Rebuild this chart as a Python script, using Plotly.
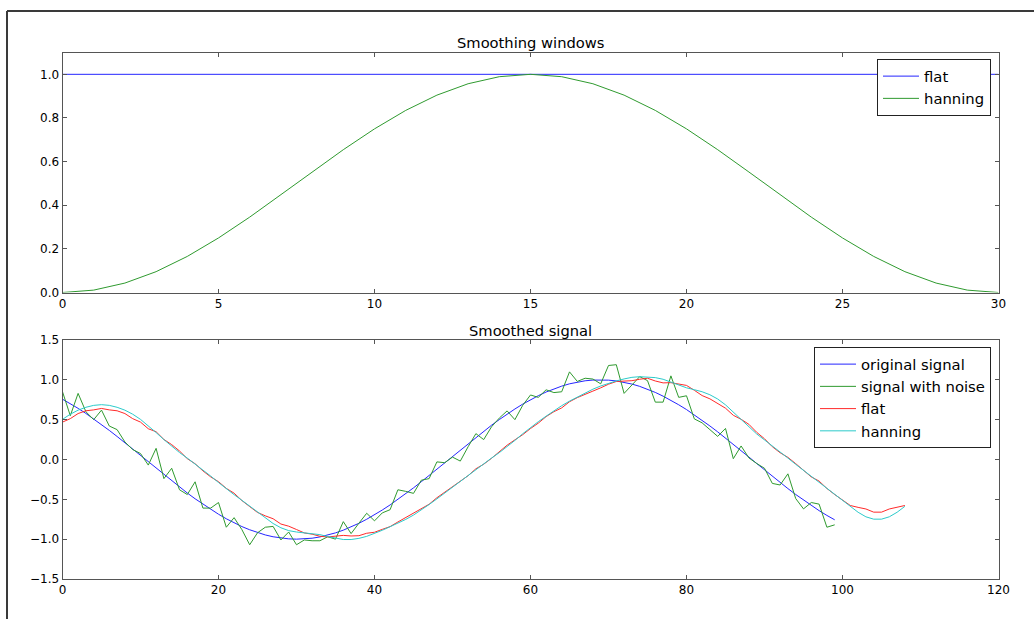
import plotly.graph_objects as go

# ---------------- data ----------------
win_x = list(range(31))
win_flat = [1.0] * 31
win_hanning = [0.0, 0.0109, 0.0432, 0.0955, 0.1654, 0.25, 0.3455, 0.4477, 0.5523, 0.6545,
               0.75, 0.8346, 0.9045, 0.9568, 0.9891, 1.0, 0.9891, 0.9568, 0.9045, 0.8346,
               0.75, 0.6545, 0.5523, 0.4477, 0.3455, 0.25, 0.1654, 0.0955, 0.0432, 0.0109, 0.0]

sig_x = list(range(100))
original = [0.757, 0.702, 0.642, 0.578, 0.510, 0.439, 0.365, 0.289, 0.210, 0.131,
            0.050, -0.031, -0.111, -0.191, -0.270, -0.347, -0.421, -0.493, -0.561, -0.627,
            -0.687, -0.744, -0.795, -0.842, -0.882, -0.918, -0.947, -0.970, -0.986, -0.996,
            -1.000, -0.997, -0.988, -0.972, -0.950, -0.921, -0.887, -0.847, -0.801, -0.750,
            -0.695, -0.634, -0.570, -0.501, -0.430, -0.356, -0.279, -0.201, -0.121, -0.040,
            0.040, 0.121, 0.201, 0.279, 0.356, 0.430, 0.501, 0.570, 0.634, 0.695,
            0.750, 0.801, 0.847, 0.887, 0.921, 0.950, 0.972, 0.988, 0.997, 1.000,
            0.996, 0.986, 0.970, 0.947, 0.918, 0.882, 0.842, 0.795, 0.744, 0.687,
            0.627, 0.561, 0.493, 0.421, 0.347, 0.270, 0.191, 0.111, 0.031, -0.050,
            -0.131, -0.210, -0.289, -0.365, -0.439, -0.510, -0.578, -0.642, -0.702, -0.757]
noisy = [0.85, 0.55, 0.83, 0.60, 0.50, 0.62, 0.42, 0.375, 0.22, 0.125,
         0.075, -0.07, 0.14, -0.24, -0.11, -0.38, -0.44, -0.28, -0.61, -0.61,
         -0.54, -0.85, -0.73, -0.88, -1.07, -0.92, -0.85, -0.84, -1.01, -0.91,
         -1.07, -1.01, -1.02, -1.02, -0.97, -1.00, -0.78, -0.93, -0.80, -0.675,
         -0.77, -0.67, -0.63, -0.38, -0.40, -0.425, -0.26, -0.24, -0.03, -0.04,
         0.03, -0.02, 0.16, 0.325, 0.25, 0.41, 0.52, 0.61, 0.50, 0.68,
         0.81, 0.78, 0.875, 0.84, 0.85, 1.10, 0.98, 1.02, 1.01, 0.95,
         1.18, 1.19, 0.83, 0.93, 1.04, 0.99, 0.72, 0.72, 1.05, 0.78,
         0.80, 0.51, 0.46, 0.375, 0.29, 0.39, 0.01, 0.17, 0.02, -0.05,
         -0.11, -0.30, -0.32, -0.18, -0.49, -0.62, -0.54, -0.56, -0.85, -0.82]

smooth_x = list(range(109))
smooth_flat = [0.4695, 0.5127, 0.5768, 0.6114, 0.6227, 0.6409, 0.6227, 0.6114, 0.5768, 0.5127,
               0.4695, 0.3859, 0.3486, 0.2514, 0.1868, 0.1068, 0.0105, -0.0532, -0.1427, -0.2182,
               -0.2786, -0.3627, -0.4227, -0.5155, -0.5909, -0.6645, -0.7073, -0.7436, -0.8100, -0.8373,
               -0.8791, -0.9218, -0.9373, -0.9636, -0.9718, -0.9655, -0.9527, -0.9600, -0.9564, -0.9259,
               -0.9132, -0.8768, -0.8423, -0.7841, -0.7277, -0.6782, -0.6109, -0.5618, -0.4800, -0.4109,
               -0.3468, -0.2786, -0.2032, -0.1164, -0.0591, 0.0145, 0.1005, 0.1795, 0.2468, 0.3114,
               0.3886, 0.4568, 0.5382, 0.6000, 0.6477, 0.7250, 0.7768, 0.8223, 0.8586, 0.8995,
               0.9450, 0.9795, 0.9841, 0.9891, 1.0073, 1.0200, 0.9855, 0.9618, 0.9645, 0.9436,
               0.9300, 0.8691, 0.8027, 0.7614, 0.7032, 0.6441, 0.5550, 0.5050, 0.4414, 0.3414,
               0.2605, 0.1605, 0.0850, 0.0268, -0.0518, -0.1345, -0.2191, -0.2709, -0.3636, -0.4400,
               -0.5100, -0.5773, -0.6009, -0.6209, -0.6609, -0.6609, -0.6209, -0.6009, -0.5773]
smooth_hanning = [0.5035, 0.5686, 0.6193, 0.6554, 0.6796, 0.6883, 0.6796, 0.6554, 0.6193, 0.5686,
                  0.5035, 0.4256, 0.3381, 0.2495, 0.1643, 0.0873, 0.0173, -0.0545, -0.1297, -0.2079,
                  -0.2891, -0.3679, -0.4413, -0.5123, -0.5828, -0.6565, -0.7337, -0.8033, -0.8571, -0.8928,
                  -0.9102, -0.9188, -0.9280, -0.9432, -0.9668, -0.9903, -1.0046, -1.0044, -0.9900, -0.9648,
                  -0.9299, -0.8881, -0.8436, -0.7992, -0.7522, -0.6975, -0.6342, -0.5654, -0.4943, -0.4203,
                  -0.3448, -0.2691, -0.1946, -0.1221, -0.0508, 0.0178, 0.0861, 0.1589, 0.2392, 0.3229,
                  0.4019, 0.4746, 0.5435, 0.6112, 0.6753, 0.7325, 0.7858, 0.8367, 0.8824, 0.9229,
                  0.9578, 0.9860, 1.0114, 1.0314, 1.0394, 1.0373, 1.0278, 1.0072, 0.9729, 0.9328,
                  0.9000, 0.8762, 0.8505, 0.8128, 0.7593, 0.6861, 0.5949, 0.4958, 0.4026, 0.3206,
                  0.2456, 0.1731, 0.0977, 0.0182, -0.0607, -0.1345, -0.2090, -0.2855, -0.3595, -0.4330,
                  -0.5094, -0.5878, -0.6622, -0.7193, -0.7489, -0.7489, -0.7193, -0.6622, -0.5878]

top_title = "Smoothing windows"
bottom_title = "Smoothed signal"
top_xticks = [0, 5, 10, 15, 20, 25, 30]
top_yticks = [0.0, 0.2, 0.4, 0.6, 0.8, 1.0]
bot_xticks = [0, 20, 40, 60, 80, 100, 120]
bot_yticks = [-1.5, -1.0, -0.5, 0.0, 0.5, 1.0, 1.5]

# ---------------- figure ----------------
W, H = 1034, 619
FONT = "DejaVu Sans"
BLUE, GREEN, RED, CYAN = "#2525ff", "#2f9a2f", "#ff2a2a", "#2ccaca"
LW = 1.0

fig = go.Figure()
fig.add_trace(go.Scatter(x=win_x, y=win_flat, mode="lines", name="flat",
                         line=dict(color=BLUE, width=LW), xaxis="x", yaxis="y", legend="legend"))
fig.add_trace(go.Scatter(x=win_x, y=win_hanning, mode="lines", name="hanning",
                         line=dict(color=GREEN, width=LW), xaxis="x", yaxis="y", legend="legend"))

fig.add_trace(go.Scatter(x=sig_x, y=original, mode="lines", name="original signal",
                         line=dict(color=BLUE, width=LW), xaxis="x2", yaxis="y2", legend="legend2"))
fig.add_trace(go.Scatter(x=sig_x, y=noisy, mode="lines", name="signal with noise",
                         line=dict(color=GREEN, width=LW), xaxis="x2", yaxis="y2", legend="legend2"))
fig.add_trace(go.Scatter(x=smooth_x, y=smooth_flat, mode="lines", name="flat",
                         line=dict(color=RED, width=LW), xaxis="x2", yaxis="y2", legend="legend2"))
fig.add_trace(go.Scatter(x=smooth_x, y=smooth_hanning, mode="lines", name="hanning",
                         line=dict(color=CYAN, width=LW), xaxis="x2", yaxis="y2", legend="legend2"))

x_dom = [62.5 / W, 998.5 / W]
top_dom = [1 - 292.5 / H, 1 - 52.5 / H]
bot_dom = [1 - 579 / H, 1 - 340 / H]

axis_common = dict(showline=True, linecolor="#555555", linewidth=1, mirror="ticks",
                   ticks="inside", ticklen=4, tickwidth=1, tickcolor="#555555",
                   showgrid=False, zeroline=False, automargin=False,
                   tickfont=dict(family=FONT, size=12, color="#000000"))

fig.update_layout(
    width=W, height=H, autosize=False,
    margin=dict(l=0, r=0, t=0, b=0, pad=0, autoexpand=False),
    paper_bgcolor="white", plot_bgcolor="white",
    font=dict(family=FONT, size=12, color="#000000"),
    xaxis=dict(domain=x_dom, range=[0, 30], tickvals=top_xticks, anchor="y", **axis_common),
    yaxis=dict(domain=top_dom, range=[0, 1.1], tickvals=top_yticks, tickformat=".1f",
               anchor="x", **axis_common),
    xaxis2=dict(domain=x_dom, range=[0, 120], tickvals=bot_xticks, anchor="y2", **axis_common),
    yaxis2=dict(domain=bot_dom, range=[-1.5, 1.5], tickvals=bot_yticks, tickformat=".1f",
                anchor="x2", **axis_common),
    legend=dict(x=991 / W, y=1 - 59 / H, xanchor="right", yanchor="top",
                bgcolor="white", bordercolor="#222222", borderwidth=1,
                font=dict(family=FONT, size=14.8), itemwidth=36, tracegroupgap=0),
    legend2=dict(x=991 / W, y=1 - 347 / H, xanchor="right", yanchor="top",
                 bgcolor="white", bordercolor="#222222", borderwidth=1,
                 font=dict(family=FONT, size=14.8), itemwidth=36, tracegroupgap=0),
    annotations=[
        dict(text=top_title, x=530.5 / W, y=1 - 42 / H, xref="paper", yref="paper",
             showarrow=False, xanchor="center", yanchor="middle",
             font=dict(family=FONT, size=14.7, color="#000000")),
        dict(text=bottom_title, x=530.5 / W, y=1 - 330 / H, xref="paper", yref="paper",
             showarrow=False, xanchor="center", yanchor="middle",
             font=dict(family=FONT, size=14.7, color="#000000")),
    ],
    shapes=[
        dict(type="line", xref="paper", yref="paper", x0=7 / W, x1=7 / W, y0=0, y1=1 - 11 / H,
             line=dict(color="#3a3a3a", width=2)),
        dict(type="line", xref="paper", yref="paper", x0=7 / W, x1=1, y0=1 - 11 / H, y1=1 - 11 / H,
             line=dict(color="#3a3a3a", width=2)),
    ],
)

page_fix = ("document.body.style.margin='0';document.body.style.padding='0';"
            "document.body.style.overflow='hidden';"
            "document.documentElement.style.overflow='hidden';")

fig.write_html("out.html", post_script=page_fix, config={"displayModeBar": False})
